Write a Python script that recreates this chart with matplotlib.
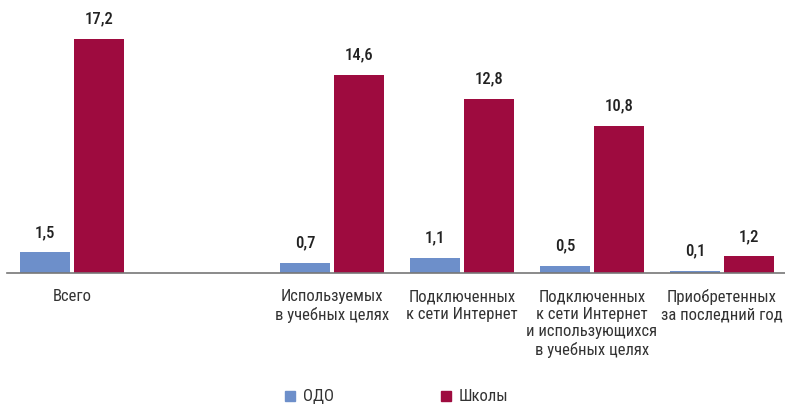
import numpy as np
import matplotlib.pyplot as plt
from matplotlib.lines import Line2D

plt.rcParams['font.family'] = ['Roboto Condensed', 'DejaVu Sans']

categories = ['Всего', '', 'Используемых\nв учебных целях', 'Подключенных\nк сети Интернет',
              'Подключенных\nк сети Интернет\nи использующихся\nв учебных целях',
              'Приобретенных\nза последний год']
odo = [1.5, np.nan, 0.7, 1.1, 0.5, 0.1]
schools = [17.2, np.nan, 14.6, 12.8, 10.8, 1.2]
series_names = ['ОДО', 'Школы']
colors = ['#6d8fca', '#9e0b3f']

fig = plt.figure(figsize=(7.85, 4.05), dpi=100)
ax = fig.add_axes([7/785, 132.3/405, 780/785, 264.6/405])

x = np.arange(len(categories))
w = 0.385
off = 0.208
for vals, sign, c in [(odo, -1, colors[0]), (schools, 1, colors[1])]:
    ax.bar(x + sign*off, vals, width=w, color=c)
    for xi, v in zip(x, vals):
        if np.isnan(v):
            continue
        ax.annotate(f'{v:.1f}'.replace('.', ','), (xi + sign*off, v), xytext=(0, 9),
                    textcoords='offset points', ha='center', va='bottom',
                    fontsize=12, fontweight='medium', color='#222222')

ax.set_xlim(-0.5, 5.5)
ax.set_ylim(0, 19.5)
for s in ['top', 'right', 'left']:
    ax.spines[s].set_visible(False)
ax.spines['bottom'].set_color('#777777')
ax.spines['bottom'].set_linewidth(1.2)
ax.set_yticks([])
ax.set_xticks(x)
ax.set_xticklabels(categories, fontsize=12, color='#333333', linespacing=1.2, va='top')
ax.tick_params(axis='x', length=0, pad=12)

handles = [Line2D([], [], marker='s', ls='', color=c, markersize=7.5) for c in colors]
fig.legend(handles, series_names, loc='center', bbox_to_anchor=(0.505, 0.02), ncol=2,
           frameon=False, fontsize=12, columnspacing=6.4, handlelength=0.7,
           handletextpad=0.4, labelcolor='#333333')

fig.savefig('out.png', dpi=100)
